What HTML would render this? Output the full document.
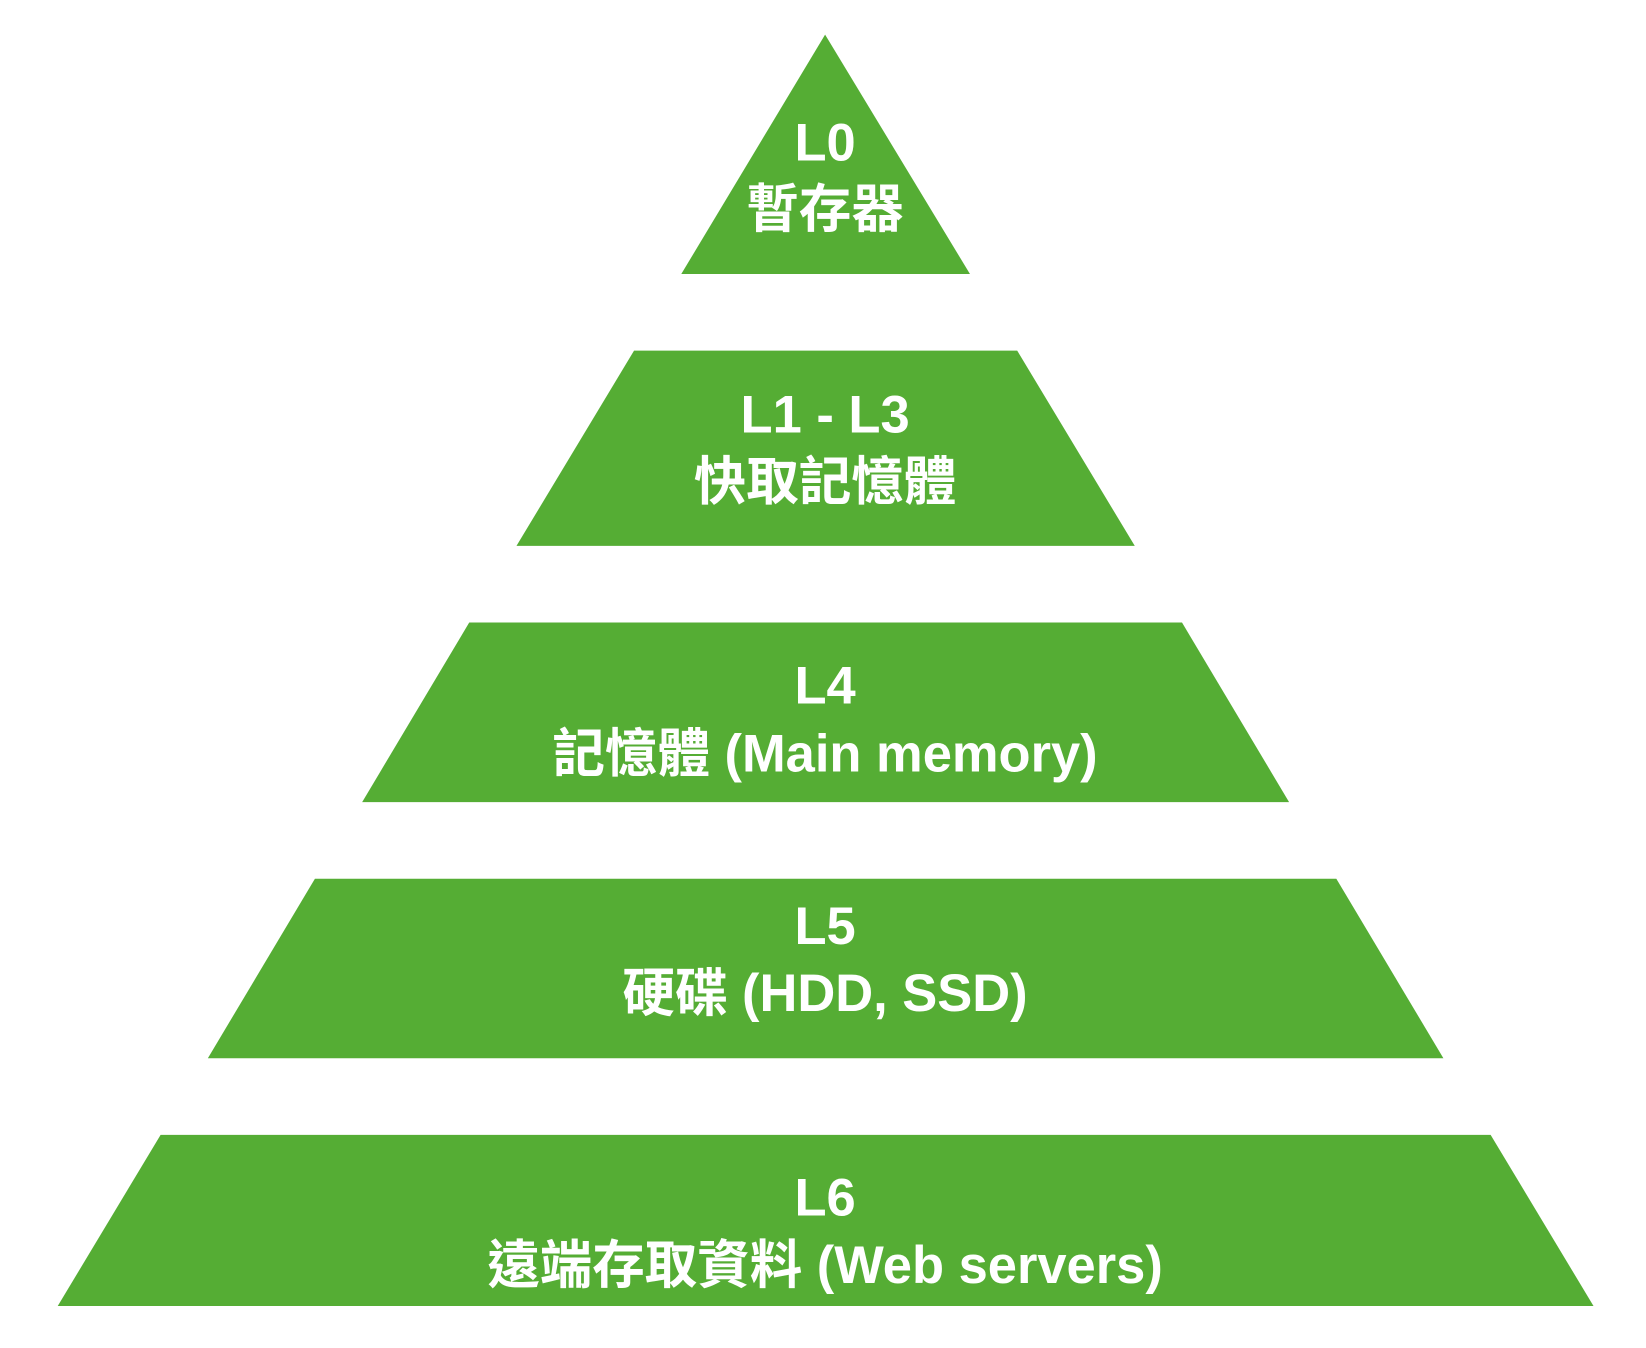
<!DOCTYPE html>
<html><head><meta charset="utf-8"><style>
html,body{margin:0;padding:0;background:#fff;}
svg{display:block;}
text{font-family:"Liberation Sans","Noto Sans CJK TC",sans-serif;font-weight:bold;fill:#fff;text-anchor:middle;}
</style></head><body>
<svg width="1646" height="1348" viewBox="0 0 1568 1284" preserveAspectRatio="none" xmlns="http://www.w3.org/2000/svg">
<g fill="#55ad34">
<polygon points="786,33 924,261 649,261"/>
<polygon points="604,334 969,334 1081,520 492,520"/>
<polygon points="447,593 1126,593 1228,764 345,764"/>
<polygon points="300,837 1273,837 1375,1008 198,1008"/>
<polygon points="153,1081 1420,1081 1518,1244 55,1244"/>
</g>
<g font-size="50">
<text x="786" y="153">L0</text>
<text x="786" y="216">暫存器</text>
<text x="786" y="412">L1 - L3</text>
<text x="786" y="476">快取記憶體</text>
<text x="786" y="670">L4</text>
<text x="786" y="735">記憶體 (Main memory)</text>
<text x="786" y="899">L5</text>
<text x="786" y="963">硬碟 (HDD, SSD)</text>
<text x="786" y="1158">L6</text>
<text x="786" y="1222">遠端存取資料 (Web servers)</text>
</g>
</svg>
</body></html>
